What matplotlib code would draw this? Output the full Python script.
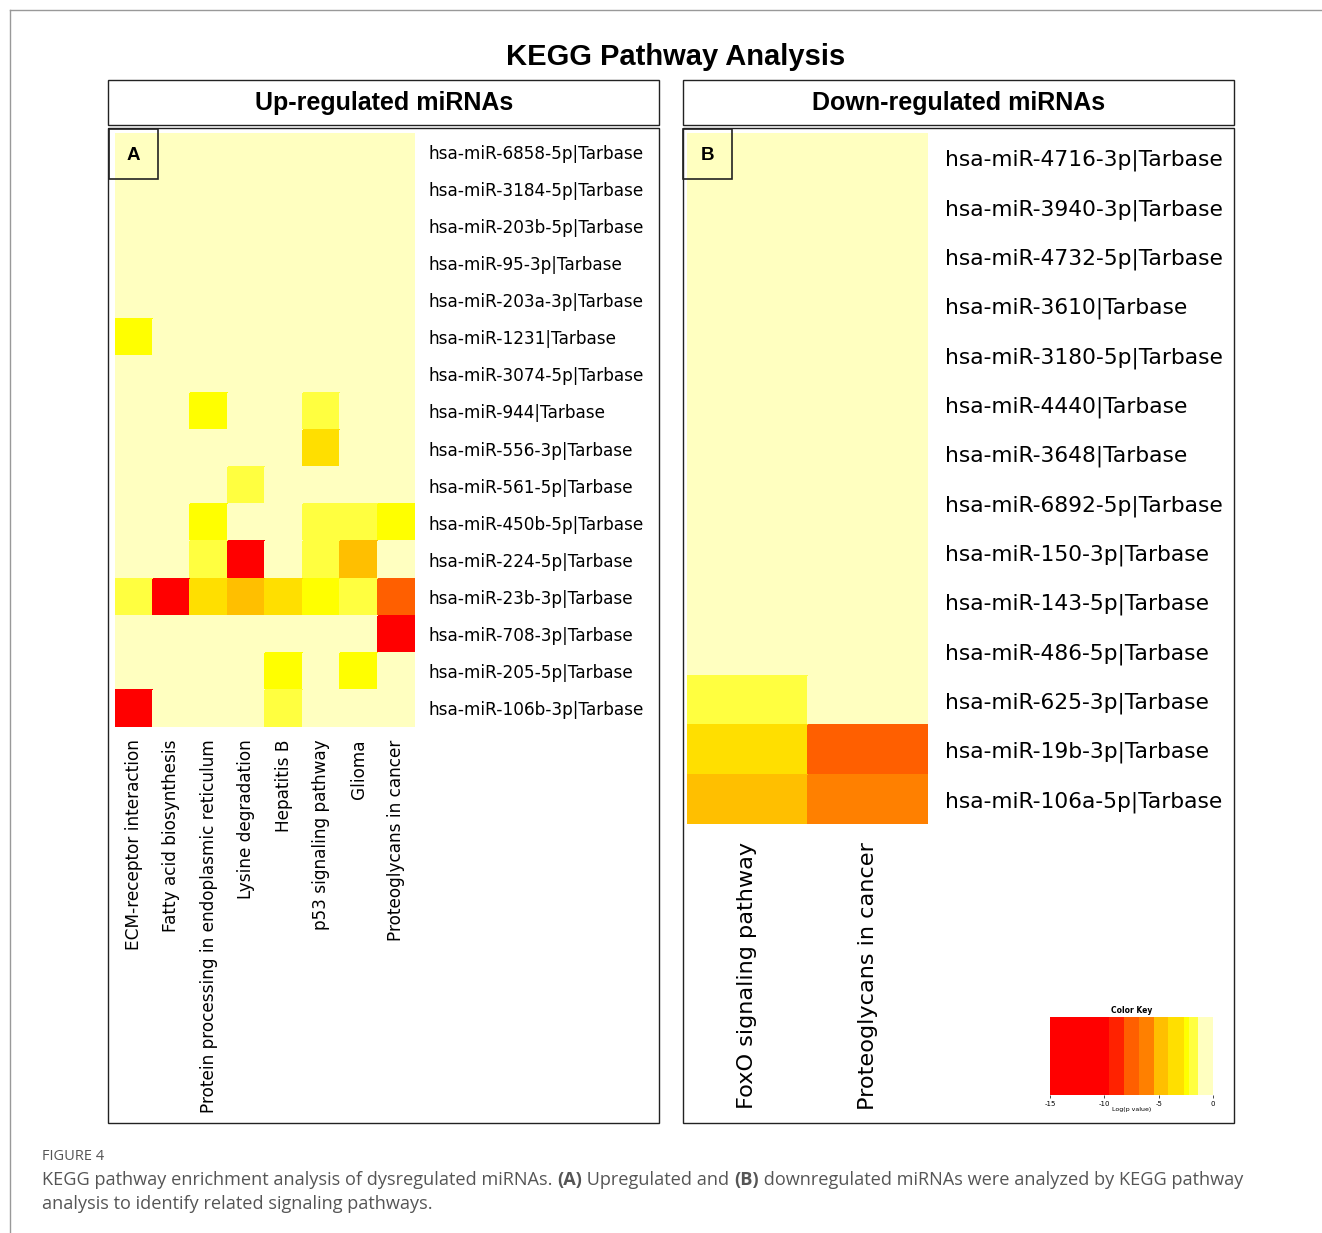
from matplotlib import pyplot as plt
from matplotlib.colors import ListedColormap, BoundaryNorm
from matplotlib.patches import Rectangle
import matplotlib.cm as cm
import numpy as np

W, H = 1322, 1233

# colour key bins (log p value) and colours
key_bounds = [-15, -9.6, -8.2, -6.8, -5.45, -4.1, -2.7, -2.2, -1.35, 0]
key_colors = ['#FF0000', '#FF2200', '#FF5F00', '#FF8000', '#FFBF00',
              '#FFDF00', '#FFFF00', '#FFFF40', '#FFFFC0']

up_rows = ['hsa-miR-6858-5p|Tarbase', 'hsa-miR-3184-5p|Tarbase', 'hsa-miR-203b-5p|Tarbase',
           'hsa-miR-95-3p|Tarbase', 'hsa-miR-203a-3p|Tarbase', 'hsa-miR-1231|Tarbase',
           'hsa-miR-3074-5p|Tarbase', 'hsa-miR-944|Tarbase', 'hsa-miR-556-3p|Tarbase',
           'hsa-miR-561-5p|Tarbase', 'hsa-miR-450b-5p|Tarbase', 'hsa-miR-224-5p|Tarbase',
           'hsa-miR-23b-3p|Tarbase', 'hsa-miR-708-3p|Tarbase', 'hsa-miR-205-5p|Tarbase',
           'hsa-miR-106b-3p|Tarbase']
up_cols = ['ECM-receptor interaction', 'Fatty acid biosynthesis',
           'Protein processing in endoplasmic reticulum', 'Lysine degradation',
           'Hepatitis B', 'p53 signaling pathway', 'Glioma', 'Proteoglycans in cancer']
# log(p value), one row per miRNA
up_vals = [
    [-0.5, -0.5, -0.5, -0.5, -0.5, -0.5, -0.5, -0.5],
    [-0.5, -0.5, -0.5, -0.5, -0.5, -0.5, -0.5, -0.5],
    [-0.5, -0.5, -0.5, -0.5, -0.5, -0.5, -0.5, -0.5],
    [-0.5, -0.5, -0.5, -0.5, -0.5, -0.5, -0.5, -0.5],
    [-0.5, -0.5, -0.5, -0.5, -0.5, -0.5, -0.5, -0.5],
    [-2.5, -0.5, -0.5, -0.5, -0.5, -0.5, -0.5, -0.5],
    [-0.5, -0.5, -0.5, -0.5, -0.5, -0.5, -0.5, -0.5],
    [-0.5, -0.5, -2.5, -0.5, -0.5, -1.8, -0.5, -0.5],
    [-0.5, -0.5, -0.5, -0.5, -0.5, -3.4, -0.5, -0.5],
    [-0.5, -0.5, -0.5, -1.8, -0.5, -0.5, -0.5, -0.5],
    [-0.5, -0.5, -2.5, -0.5, -0.5, -1.8, -1.8, -2.5],
    [-0.5, -0.5, -1.8, -12.0, -0.5, -1.8, -4.8, -0.5],
    [-1.8, -12.0, -3.4, -4.8, -3.4, -2.5, -1.8, -7.5],
    [-0.5, -0.5, -0.5, -0.5, -0.5, -0.5, -0.5, -12.0],
    [-0.5, -0.5, -0.5, -0.5, -2.5, -0.5, -2.5, -0.5],
    [-12.0, -0.5, -0.5, -0.5, -1.8, -0.5, -0.5, -0.5],
]

down_rows = ['hsa-miR-4716-3p|Tarbase', 'hsa-miR-3940-3p|Tarbase', 'hsa-miR-4732-5p|Tarbase',
             'hsa-miR-3610|Tarbase', 'hsa-miR-3180-5p|Tarbase', 'hsa-miR-4440|Tarbase',
             'hsa-miR-3648|Tarbase', 'hsa-miR-6892-5p|Tarbase', 'hsa-miR-150-3p|Tarbase',
             'hsa-miR-143-5p|Tarbase', 'hsa-miR-486-5p|Tarbase', 'hsa-miR-625-3p|Tarbase',
             'hsa-miR-19b-3p|Tarbase', 'hsa-miR-106a-5p|Tarbase']
down_cols = ['FoxO signaling pathway', 'Proteoglycans in cancer']
down_vals = [
    [-0.5, -0.5], [-0.5, -0.5], [-0.5, -0.5], [-0.5, -0.5], [-0.5, -0.5],
    [-0.5, -0.5], [-0.5, -0.5], [-0.5, -0.5], [-0.5, -0.5], [-0.5, -0.5],
    [-0.5, -0.5], [-1.8, -0.5], [-3.4, -7.5], [-4.8, -6.1],
]

cmap = ListedColormap(key_colors)
norm = BoundaryNorm(key_bounds, cmap.N)

fig = plt.figure(figsize=(W / 100, H / 100), dpi=100)

# background axes in pixel coordinates
bg = fig.add_axes([0, 0, 1, 1])
bg.set_xlim(0, W)
bg.set_ylim(H, 0)
bg.axis('off')


def px_axes(x0, y0, x1, y1):
    return fig.add_axes([x0 / W, 1 - y1 / H, (x1 - x0) / W, (y1 - y0) / H])


def box(x0, y0, x1, y1, lw=1.0):
    bg.add_patch(Rectangle((x0, y0), x1 - x0, y1 - y0, fill=False,
                           edgecolor='#222222', linewidth=lw, zorder=5))


# page frame
bg.plot([10, W], [10, 10], color='#999999', lw=1)
bg.plot([10, 10], [10, H], color='#999999', lw=1)

bg.text(676, 57, 'KEGG Pathway Analysis', ha='center', va='center',
        fontsize=21, fontweight='bold', family='Liberation Sans')

# panel frames
box(108, 80, 659, 125)
box(108, 128, 659, 1123)
box(683, 80, 1234, 125)
box(683, 128, 1234, 1123)
bg.text(384, 103, 'Up-regulated miRNAs', ha='center', va='center',
        fontsize=18, fontweight='bold', family='Liberation Sans')
bg.text(959, 103, 'Down-regulated miRNAs', ha='center', va='center',
        fontsize=18, fontweight='bold', family='Liberation Sans')


def heat(ax, vals, rows, cols, rfs, cfs, rpad, cpad):
    data = np.array(vals)
    ax.pcolormesh(data, cmap=cmap, norm=norm, edgecolors='face', linewidth=0.3)
    ax.set_xlim(0, data.shape[1])
    ax.set_ylim(data.shape[0], 0)
    ax.yaxis.tick_right()
    ax.set_yticks(np.arange(len(rows)) + 0.5)
    ax.set_yticklabels(rows, fontsize=rfs)
    ax.set_xticks(np.arange(len(cols)) + 0.5)
    ax.set_xticklabels(cols, fontsize=cfs, rotation=90)
    ax.tick_params(axis='y', length=0, pad=rpad)
    ax.tick_params(axis='x', length=0, pad=cpad)
    for s in ax.spines.values():
        s.set_visible(False)


axA = px_axes(115, 133, 415, 727)
heat(axA, up_vals, up_rows, up_cols, 12.2, 12.2, 9.5, 9)
axB = px_axes(687, 133, 928, 824)
heat(axB, down_vals, down_rows, down_cols, 15.7, 16.1, 12, 13)

# panel letters in small boxes over the heatmaps
for lab, x0 in [('A', 109), ('B', 683)]:
    fig.add_artist(Rectangle((x0 / W, 1 - 179 / H), 49 / W, 50 / H, fill=False,
                             edgecolor='#222222', lw=1.2, transform=fig.transFigure,
                             zorder=20))
    fig.text((x0 + 24) / W, 1 - 155 / H, lab, ha='center', va='center', fontsize=13.5,
             fontweight='bold', family='Liberation Sans', zorder=21)

# colour key
cax = px_axes(1050, 1017, 1213, 1095)
cb = fig.colorbar(cm.ScalarMappable(norm=norm, cmap=cmap), cax=cax,
                  orientation='horizontal', spacing='proportional',
                  ticks=[-15, -10, -5, 0])
cb.outline.set_visible(False)
cax.minorticks_off()
cax.tick_params(labelsize=5, length=2.5, width=0.5, pad=1.5)
cax.set_xticklabels(['-15', '-10', '-5', '0'])
cax.set_xlabel('Log(p value)', fontsize=4.5, labelpad=0.5)
cax.set_title('Color Key', fontsize=5.5, fontweight='bold', pad=3)

# caption
bg.text(42, 1157, 'FIGURE 4', ha='left', va='center', fontsize=10.5,
        color='#555555', family='Open Sans')

fig.canvas.draw()
renderer = fig.canvas.get_renderer()


def rich_line(x, y, parts, **kw):
    for txt, bold in parts:
        t = bg.text(x, y, txt, ha='left', va='center',
                    fontweight='bold' if bold else 'normal', **kw)
        bb = t.get_window_extent(renderer=renderer)
        x += bb.width


cap_kw = dict(fontsize=13.1, color='#555555', family='Open Sans')
rich_line(42, 1180, [('KEGG pathway enrichment analysis of dysregulated miRNAs. ', False),
                     ('(A)', True), (' Upregulated and ', False), ('(B)', True),
                     (' downregulated miRNAs were analyzed by KEGG pathway', False)], **cap_kw)
rich_line(42, 1204, [('analysis to identify related signaling pathways.', False)], **cap_kw)

fig.savefig('out.png', dpi=100)
